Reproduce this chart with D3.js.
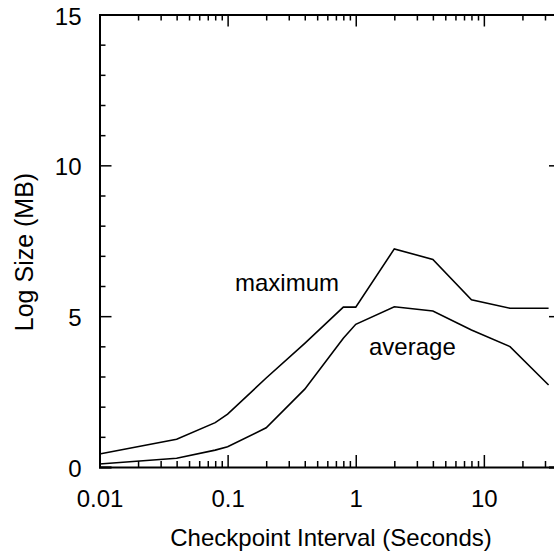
<!DOCTYPE html>
<html>
<head>
<meta charset="utf-8">
<script src="https://cdn.jsdelivr.net/npm/d3@7"></script>
<style>
	body { margin: 0; background: #fff; }
	text { font-family: "Liberation Sans", Arial, Helvetica, sans-serif; fill: #000; }
	.line { fill: none; stroke: #000; stroke-width: 1.6; stroke-linejoin: miter; }
	.axis path, .axis line { stroke: #000; }
	.axis path { stroke-width: 2; }
	.axis line { stroke-width: 1.5; }
</style>
</head>
<body>
<script>
// checkpoint intervals (seconds)
var intervals = [0.01, 0.04, 0.08, 0.1, 0.2, 0.4, 0.8, 1, 2, 4, 8, 16, 32];

// log size (MB)
var maximum = [0.43, 0.92, 1.47, 1.75, 2.95, 4.1, 5.3, 5.3, 7.23, 6.88, 5.54, 5.26, 5.26];
var average = [0.1, 0.29, 0.56, 0.67, 1.3, 2.58, 4.27, 4.73, 5.31, 5.17, 4.54, 3.99, 2.72];

var xTickValues = [0.01, 0.1, 1, 10];
var xTickLabels = ["0.01", "0.1", "1", "10"];
var yTickValues = [0, 5, 10, 15];

// begin script when window loads
window.onload = drawChart();

function drawChart(){

	var width = 554,
	height = 552;

	var svg = d3.select("body")
		.append("svg")
		.attr("width", width)
		.attr("height", height);

	// log x scale, right frame edge falls just outside the picture
	var x = d3.scaleLog()
		.domain([0.01, 40])
		.range([99.5, 561]);

	var y = d3.scaleLinear()
		.domain([0, 15])
		.range([467, 14.5]);

	// minor ticks: 2..9 in every decade
	var xMinor = [];
	[0.01, 0.1, 1, 10].forEach(function(d){
		for (var k = 2; k <= 9; k++){
			if (d * k <= 40) xMinor.push(d * k);
		}
	});
	var yMinor = d3.range(0, 16).filter(function(d){ return d % 5 != 0; });

	var top = y.range()[1], bottom = y.range()[0],
		left = x.range()[0], right = x.range()[1];

	// bottom axis
	svg.append("g")
		.attr("class", "axis")
		.attr("transform", "translate(0," + bottom + ")")
		.call(d3.axisBottom(x).tickValues(xTickValues).tickSize(-12).tickPadding(23)
			.tickFormat(function(d, i){ return xTickLabels[i]; }))
		.call(function(g){ g.selectAll("text").attr("font-size", 24); });

	svg.append("g")
		.attr("class", "axis")
		.attr("transform", "translate(0," + bottom + ")")
		.call(d3.axisBottom(x).tickValues(xMinor).tickSize(-6).tickFormat(""))
		.call(function(g){ g.select(".domain").remove(); });

	// top axis
	svg.append("g")
		.attr("class", "axis")
		.attr("transform", "translate(0," + top + ")")
		.call(d3.axisTop(x).tickValues(xTickValues).tickSize(-12).tickFormat(""));

	svg.append("g")
		.attr("class", "axis")
		.attr("transform", "translate(0," + top + ")")
		.call(d3.axisTop(x).tickValues(xMinor).tickSize(-6).tickFormat(""))
		.call(function(g){ g.select(".domain").remove(); });

	// left axis
	svg.append("g")
		.attr("class", "axis")
		.attr("transform", "translate(" + left + ",0)")
		.call(d3.axisLeft(y).tickValues(yTickValues).tickSize(-12).tickPadding(18))
		.call(function(g){ g.selectAll("text").attr("font-size", 24).attr("dy", "0.4em"); });

	svg.append("g")
		.attr("class", "axis")
		.attr("transform", "translate(" + left + ",0)")
		.call(d3.axisLeft(y).tickValues(yMinor).tickSize(-6).tickFormat(""))
		.call(function(g){ g.select(".domain").remove(); });

	// right axis
	svg.append("g")
		.attr("class", "axis")
		.attr("transform", "translate(" + right + ",0)")
		.call(d3.axisRight(y).tickValues(yTickValues).tickSize(-12).tickFormat(""));

	svg.append("g")
		.attr("class", "axis")
		.attr("transform", "translate(" + right + ",0)")
		.call(d3.axisRight(y).tickValues(yMinor).tickSize(-6).tickFormat(""))
		.call(function(g){ g.select(".domain").remove(); });

	// line generator
	var line = d3.line()
		.x(function(d){ return x(d[0]); })
		.y(function(d){ return y(d[1]); });

	svg.append("path")
		.datum(d3.zip(intervals, maximum))
		.attr("class", "line")
		.attr("d", line);

	svg.append("path")
		.datum(d3.zip(intervals, average))
		.attr("class", "line")
		.attr("d", line);

	// series labels
	svg.append("text")
		.attr("x", 235)
		.attr("y", 291)
		.attr("font-size", 24)
		.text("maximum");

	svg.append("text")
		.attr("x", 369)
		.attr("y", 355)
		.attr("font-size", 24)
		.text("average");

	// axis titles
	svg.append("text")
		.attr("x", 331)
		.attr("y", 546)
		.attr("text-anchor", "middle")
		.attr("font-size", 24)
		.text("Checkpoint Interval (Seconds)");

	svg.append("text")
		.attr("transform", "translate(33,252) rotate(-90)")
		.attr("text-anchor", "middle")
		.attr("font-size", 25)
		.text("Log Size (MB)");
};
</script>
</body>
</html>
